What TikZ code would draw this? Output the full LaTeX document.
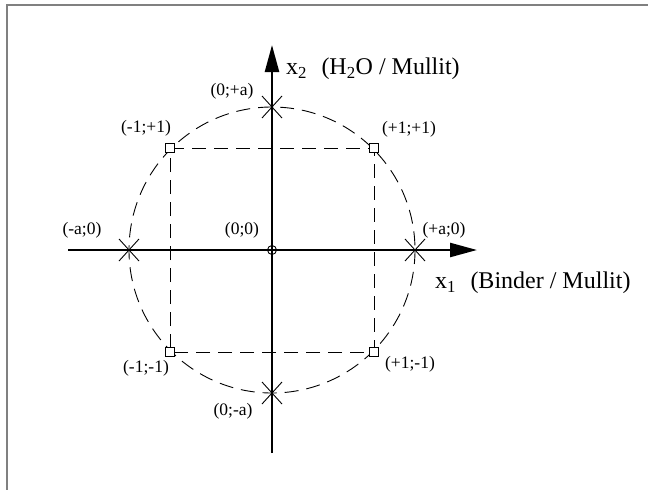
\documentclass[tikz,border=0pt]{standalone}
\usepackage{fontspec}
\setmainfont{Liberation Serif}
\usetikzlibrary{arrows.meta, calc}
\tikzset{%
  axis/.style={line width=2.4pt, -{Triangle[length=27pt, width=14pt]}},
  dashline/.style={line width=0.9pt, dash pattern=on 14pt off 8pt},
  frame/.style={line width=1.4pt, gray},
  lbl/.style={inner sep=0pt, font=\fontsize{17.5}{20}\selectfont},
  axlbl/.style={inner sep=0pt, anchor=west, font=\fontsize{24}{28}\selectfont},
  axpt/.pic={\draw[line width=0.9pt] (-10,-11) -- (10,11) (-10,11) -- (10,-11);},
  facpt/.pic={\draw[line width=0.9pt, fill=white] (-4.5,-4.5) rectangle (4.5,4.5);},
}

\begin{document}
\begin{tikzpicture}[x=1pt, y=-1pt]
    \useasboundingbox (0,0) rectangle (648,490);
    \draw[frame] (7,490) -- (7,5) -- (648,5);

    \coordinate (O) at (272,250);
    \def\ra{143}
    \def\rs{102}

    % star points and corner points
    \coordinate (Ap) at ($(O)+(\ra,0)$);
    \coordinate (Am) at ($(O)+(-\ra,0)$);
    \coordinate (Bp) at ($(O)+(0,-\ra)$);
    \coordinate (Bm) at ($(O)+(0,\ra)$);
    \coordinate (PP) at ($(O)+(\rs,-\rs)$);
    \coordinate (MP) at ($(O)+(-\rs,-\rs)$);
    \coordinate (MM) at ($(O)+(-\rs,\rs)$);
    \coordinate (PM) at ($(O)+(\rs,\rs)$);

    %circle and square
    \draw[dashline] (O) circle (\ra);
    \draw[dashline] (MP) -- (PP) -- (PM) -- (MM) -- cycle;

    %axes
    \coordinate (Xl) at (68,250);
    \coordinate (Xr) at (477,250);
    \coordinate (Yb) at (272,453);
    \coordinate (Yt) at (272,45);
    \draw[axis] (Xl) -- (Xr);
    \draw[axis] (Yb) -- (Yt);

    \foreach \p in {Ap,Am,Bp,Bm}
        \pic at (\p) {axpt};
    \foreach \p in {PP,MP,MM,PM}
        \pic at (\p) {facpt};
    \draw[line width=0.9pt] (O) circle (4.5);

    % labels
    \node[lbl] (lBp) at (232,91) {(0;+a)};
    \node[lbl] (lMP) at (146,128) {(-1;+1)};
    \node[lbl] (lPP) at (409,129) {(+1;+1)};
    \node[lbl] (lAm) at (82,230) {(-a;0)};
    \node[lbl] (lO) at (242,230) {(0;0)};
    \node[lbl] (lAp) at (444,230) {(+a;0)};
    \node[lbl] (lMM) at (146,368) {(-1;-1)};
    \node[lbl] (lPM) at (410,364) {(+1;-1)};
    \node[lbl] (lBm) at (233,411) {(0;-a)};

    \node[axlbl] (lx2) at (286,69) {x\textsubscript{2}\hspace{0.6em}(H\textsubscript{2}O / Mullit)};
    \node[axlbl] (lx1) at (435,283) {x\textsubscript{1}\hspace{0.6em}(Binder / Mullit)};
\end{tikzpicture}
\end{document}
